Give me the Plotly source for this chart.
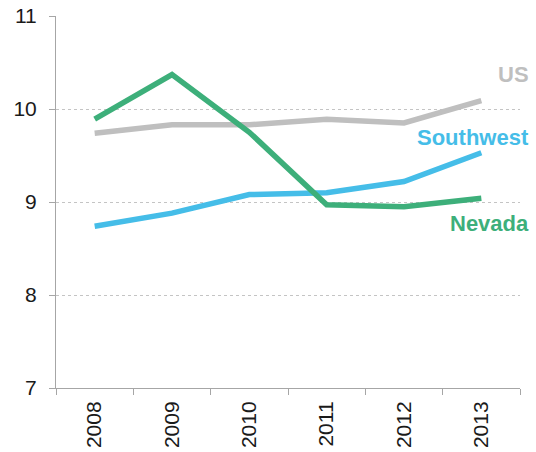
import plotly.graph_objects as go

years = ["2008", "2009", "2010", "2011", "2012", "2013"]
us = [9.74, 9.83, 9.83, 9.89, 9.85, 10.09]
southwest = [8.74, 8.88, 9.08, 9.10, 9.22, 9.53]
nevada = [9.89, 10.37, 9.75, 8.97, 8.95, 9.04]
y_ticks = [7, 8, 9, 10, 11]

C_US = "#bfbfbf"
C_SW = "#45bde8"
C_NV = "#3daf7a"

fig = go.Figure()
fig.add_trace(go.Scatter(x=years, y=us, mode="lines", line=dict(color=C_US, width=5.5), name="US"))
fig.add_trace(go.Scatter(x=years, y=southwest, mode="lines", line=dict(color=C_SW, width=5.5), name="Southwest"))
fig.add_trace(go.Scatter(x=years, y=nevada, mode="lines", line=dict(color=C_NV, width=5.5), name="Nevada"))

font = "Liberation Sans, Arial, sans-serif"
labels = [("US", 10.37, C_US), ("Southwest", 9.69, C_SW), ("Nevada", 8.77, C_NV)]
for txt, yv, col in labels:
    fig.add_annotation(x=1.023, xref="paper", xanchor="right", y=yv, yref="y", yanchor="middle",
                       text="<b>%s</b>" % txt, showarrow=False,
                       font=dict(family=font, size=22, color=col))

fig.update_layout(
    width=536, height=452,
    margin=dict(l=56, r=16, t=16, b=64),
    paper_bgcolor="white", plot_bgcolor="white",
    showlegend=False,
    font=dict(family=font, color="#1a1a1a"),
)
fig.update_xaxes(
    type="category", range=[-0.5, 5.5], tickson="boundaries", automargin=False,
    ticks="outside", ticklen=6, tickcolor="#a6a6a6",
    showline=True, linecolor="#a6a6a6", linewidth=1,
    showgrid=False, tickangle=-90, tickfont=dict(size=21, color="#1a1a1a"),
    ticklabelstandoff=4,
)
fig.update_yaxes(
    range=[7, 11], tickvals=y_ticks, ticks="outside", ticklen=6, tickcolor="#a6a6a6",
    showline=True, linecolor="#a6a6a6", linewidth=1, automargin=False,
    showgrid=True, gridcolor="#c4c4c4", griddash="dot", gridwidth=1,
    zeroline=False, tickfont=dict(size=21, color="#1a1a1a"), ticklabelstandoff=8,
)
fig.write_html("out.html", config={"displayModeBar": False},
               post_script="document.body.style.margin='0';")
